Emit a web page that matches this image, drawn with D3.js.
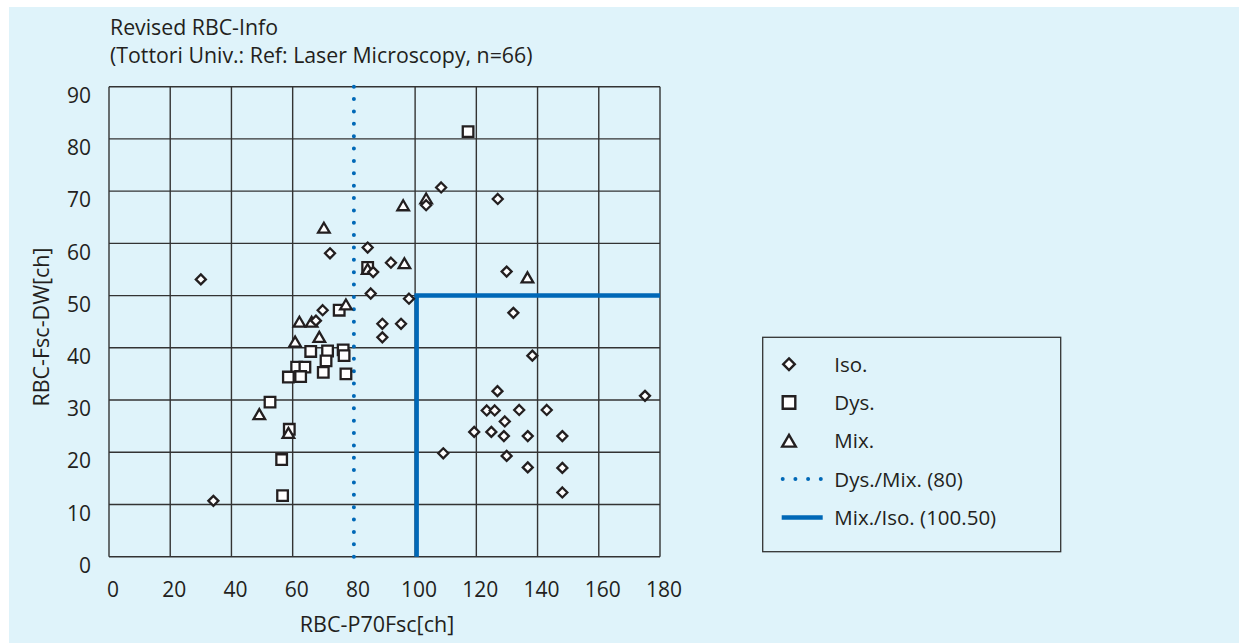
<html>
<head>
<meta charset="utf-8">
<script src="https://d3js.org/d3.v7.min.js"></script>
<style>
body { margin:0; background:#fff; }
text { font-family: "Open Sans", sans-serif; fill:#231f20; }
</style>
</head>
<body>
<svg width=1247 height=643></svg>
<script>
// values
var isoX = [30.0, 34.1, 72.2, 69.8, 67.6, 84.5, 86.3, 92.1, 85.5, 98.0, 89.3, 95.4, 89.3,
	103.6, 108.5, 127.0, 129.9, 132.1, 138.3, 126.9, 175.1, 123.4, 126.0, 134.0, 143.0,
	129.3, 119.3, 124.9, 129.0, 136.8, 148.1, 109.2, 129.9, 136.8, 148.1, 148.1];
var isoY = [53.1, 10.7, 58.1, 47.2, 45.2, 59.2, 54.5, 56.3, 50.4, 49.4, 44.6, 44.6, 42.0,
	67.3, 70.7, 68.5, 54.6, 46.7, 38.5, 31.7, 30.8, 28.0, 28.0, 28.1, 28.1,
	25.9, 23.9, 23.9, 23.1, 23.1, 23.1, 19.8, 19.3, 17.1, 17.0, 12.3];
var dysX = [117.3, 84.5, 75.2, 65.9, 71.4, 76.5, 76.8, 70.9, 61.3, 64.0, 58.6, 62.6,
	70.0, 77.4, 52.6, 58.9, 56.4, 56.7];
var dysY = [81.4, 55.4, 47.2, 39.3, 39.4, 39.6, 38.5, 37.5, 36.3, 36.3, 34.4, 34.5,
	35.3, 35.0, 29.6, 24.4, 18.6, 11.7];
var mixX = [70.2, 96.1, 103.6, 84.5, 96.5, 136.7, 77.4, 62.2, 66.2, 60.8, 68.7, 49.1, 58.6];
var mixY = [63.0, 67.3, 68.6, 55.1, 56.2, 53.5, 48.3, 45.0, 45.0, 41.2, 42.1, 27.3, 23.7];

var xTicks = [0, 20, 40, 60, 80, 100, 120, 140, 160, 180];
var yTicks = [0, 10, 20, 30, 40, 50, 60, 70, 80, 90];
var xGrid = [0, 20, 40, 60, 100, 120, 140, 160, 180];
var dysMixCut = 80;
var mixIsoCut = 100.5;
var mixIsoY = 50;
var titleLines = ["Revised RBC-Info", "(Tottori Univ.: Ref: Laser Microscopy, n=66)"];
var legendLabels = ["Iso.", "Dys.", "Mix.", "Dys./Mix. (80)", "Mix./Iso. (100.50)"];

var blue = "#0068b7";
var ink = "#231f20";

var svg = d3.select("svg");
svg.append("rect").attr("x", 9).attr("y", 7).attr("width", 1230).attr("height", 636)
	.attr("fill", "#dff3fa");

var x = d3.scaleLinear().domain([0, 180]).range([109, 660]);
var y = d3.scaleLinear().domain([0, 90]).range([556.7, 86.7]);

// title
svg.selectAll(".title").data(titleLines).enter().append("text")
	.attr("x", 110).attr("y", function(d, i) { return 34.5 + i * 28.5; })
	.style("font-size", "21.3px").text(function(d) { return d; });

// grid
svg.append("g").selectAll("line").data(xGrid).enter().append("line")
	.attr("x1", d => x(d)).attr("x2", d => x(d)).attr("y1", y(0)).attr("y2", y(90))
	.attr("stroke", "#333").attr("stroke-width", 1.4);
svg.append("g").selectAll("line").data(yTicks).enter().append("line")
	.attr("x1", x(0)).attr("x2", x(180)).attr("y1", d => y(d)).attr("y2", d => y(d))
	.attr("stroke", "#333").attr("stroke-width", 1.4);

// axes (labels only)
var xAxis = svg.append("g").attr("transform", "translate(0," + y(0) + ")")
	.call(d3.axisBottom(x).tickValues(xTicks).tickSize(0).tickPadding(25.5));
var yAxis = svg.append("g").attr("transform", "translate(" + x(0) + ",0)")
	.call(d3.axisLeft(y).tickValues(yTicks).tickSize(0).tickPadding(18));
[xAxis, yAxis].forEach(function(g) {
	g.select(".domain").remove();
	g.selectAll("text").style("font-size", "21px").style("font-family", "'Open Sans', sans-serif")
		.attr("fill", ink);
});
xAxis.selectAll("text").attr("dx", 3.5);
yAxis.selectAll("text").attr("y", 9);

svg.append("text").attr("x", 377).attr("y", 632).attr("text-anchor", "middle")
	.style("font-size", "21.5px").text("RBC-P70Fsc[ch]");
svg.append("text").attr("transform", "translate(48.5,327) rotate(-90)").attr("text-anchor", "middle")
	.style("font-size", "21.5px").text("RBC-Fsc-DW[ch]");

// cut-off lines
svg.append("line").attr("x1", x(dysMixCut)).attr("x2", x(dysMixCut))
	.attr("y1", y(90)).attr("y2", y(0))
	.attr("stroke", blue).attr("stroke-width", 4).attr("stroke-linecap", "round")
	.attr("stroke-dasharray", "0 " + ((y(0) - y(90)) / 38));
svg.append("path")
	.attr("d", d3.line()([[x(mixIsoCut), y(0)], [x(mixIsoCut), y(mixIsoY)], [x(180), y(mixIsoY)]]))
	.attr("fill", "none").attr("stroke", blue).attr("stroke-width", 4.5);

// marker shapes
function diamond(r) { return "M0," + (-r) + "L" + r + ",0L0," + r + "L" + (-r) + ",0Z"; }
function square(r) { return "M" + (-r) + "," + (-r) + "h" + (2 * r) + "v" + (2 * r) + "h" + (-2 * r) + "Z"; }
function triangle(r) { var h = r * 0.86; return "M0," + (-h) + "L" + r + "," + h + "L" + (-r) + "," + h + "Z"; }

function drawSet(xs, ys, shape, r) {
	svg.append("g").selectAll("path").data(xs).enter().append("path")
		.attr("transform", function(d, i) { return "translate(" + x(d) + "," + y(ys[i]) + ")"; })
		.attr("d", shape(r))
		.attr("fill", "#fff").attr("stroke", ink).attr("stroke-width", 2.3)
		.attr("stroke-linejoin", "miter");
}
drawSet(dysX, dysY, square, 5.3);
drawSet(mixX, mixY, triangle, 5.8);
drawSet(isoX, isoY, diamond, 5);

// legend
var lg = svg.append("g");
lg.append("rect").attr("x", 762.7).attr("y", 337.3).attr("width", 298).attr("height", 214.4)
	.attr("fill", "none").attr("stroke", "#333").attr("stroke-width", 1.3);
var shapes = [diamond(5.8), square(6.3), triangle(6.8)];
legendLabels.forEach(function(lab, i) {
	var by = 371.7 + i * 38.3;
	var cy = by - 7.5;
	if (i < 3) {
		lg.append("path").attr("transform", "translate(789," + cy + ")").attr("d", shapes[i])
			.attr("fill", "#fff").attr("stroke", ink).attr("stroke-width", 2.4);
	} else if (i == 3) {
		lg.append("line").attr("x1", 782.7).attr("x2", 821).attr("y1", cy).attr("y2", cy)
			.attr("stroke", blue).attr("stroke-width", 4).attr("stroke-linecap", "round")
			.attr("stroke-dasharray", "0 12.7");
	} else {
		lg.append("line").attr("x1", 781.7).attr("x2", 822.7).attr("y1", cy).attr("y2", cy)
			.attr("stroke", blue).attr("stroke-width", 4.5);
	}
	lg.append("text").attr("x", 834.3).attr("y", by).style("font-size", "20.5px").text(lab);
});
</script>
</body>
</html>
